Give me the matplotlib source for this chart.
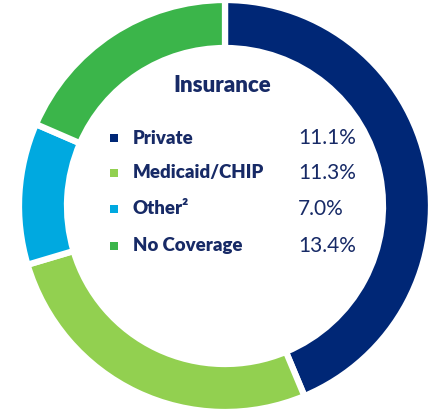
import matplotlib
matplotlib.use("Agg")
import matplotlib.pyplot as plt

plt.rcParams['font.family'] = ['Lato', 'DejaVu Sans']

# data
categories = ["Private", "Medicaid/CHIP", "Other\u00b2", "No Coverage"]
shares = [43.7, 26.7, 11.1, 18.5]          # ring sizes
rates = ["11.1%", "11.3%", "7.0%", "13.4%"]  # values printed in the legend
colors = ["#002776", "#92d050", "#00a9e0", "#3bb54a"]
title = "Insurance"
text_color = "#172a66"

fig = plt.figure(figsize=(4.31, 4.09), dpi=100)
ax = fig.add_axes([0, 0, 1, 1])

cx, cy, r = 225, 203, 206
ax.pie(shares, colors=colors, startangle=90, counterclock=False,
       center=(cx, cy), radius=r, frame=True,
       wedgeprops=dict(width=48, edgecolor="white", linewidth=4.5))
ax.set_xlim(0, 431)
ax.set_ylim(0, 409)
ax.set_aspect("equal")
ax.axis("off")

ax.text(222, 409 - 85, title, ha="center", va="center",
        fontsize=16, fontweight="heavy", color=text_color)

row_y = [138, 173, 209, 246]
for i, (lab, val, col) in enumerate(zip(categories, rates, colors)):
    y = 409 - row_y[i]
    ax.scatter([114], [y], marker="s", s=30, color=col, linewidths=0)
    ax.text(133, y, lab, ha="left", va="center", fontsize=13.4,
            fontweight="heavy", color=text_color)
    ax.text(298, y, val, ha="left", va="center", fontsize=15,
            color=text_color)

fig.savefig("out.png", dpi=100)
